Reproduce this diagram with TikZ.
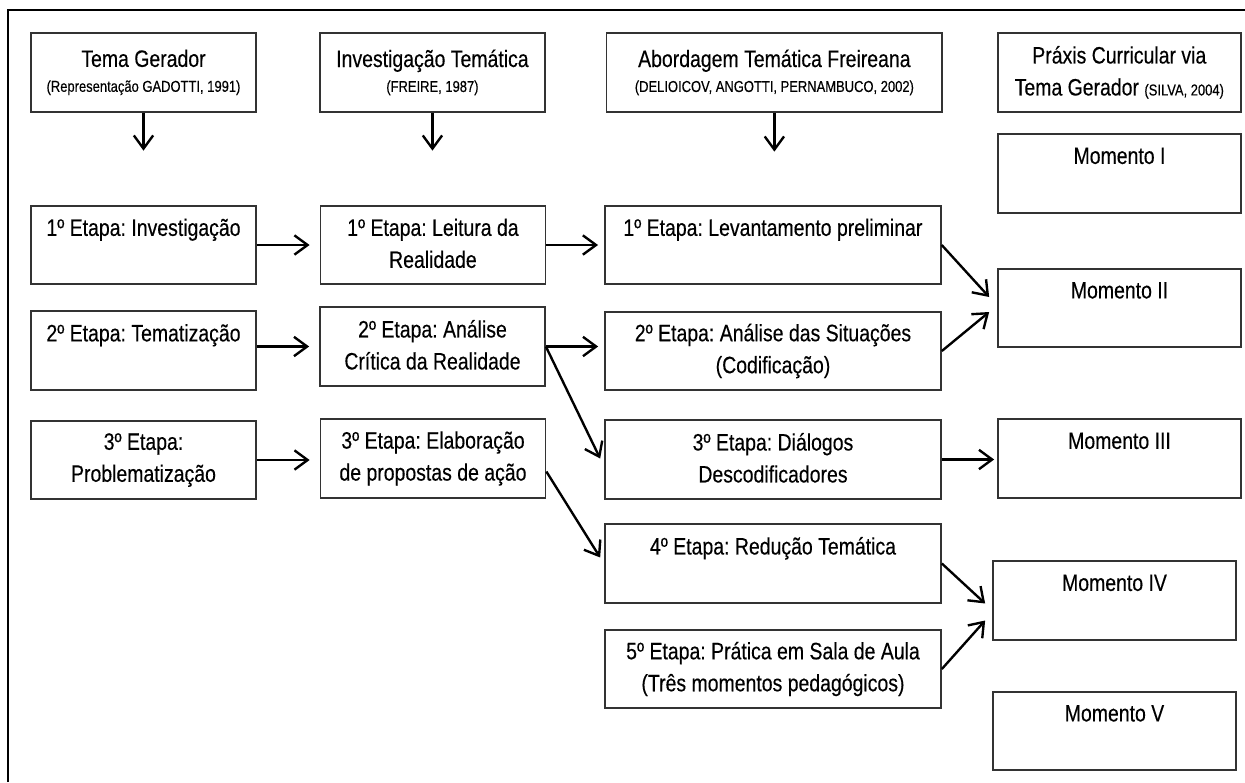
\documentclass[tikz,border=0pt]{standalone}
\usepackage{fontspec}
\setmainfont{Liberation Sans}[FakeStretch=0.82,FakeBold=0.3]
\usepackage{tikz}
\usetikzlibrary{arrows.meta,positioning,calc}
\frenchspacing

\tikzset{
  etapa/.style={draw=black!80, line width=1pt, minimum width=4.5cm, minimum height=1.57cm,
    align=center, inner sep=0pt, font=\fontsize{13.5}{18.2}\selectfont,
    execute at begin node=\rule{0pt}{16pt}, execute at end node=\rule[-2pt]{0pt}{2pt}},
  larga/.style={etapa, minimum width=6.72cm},
  momento/.style={etapa, minimum width=4.86cm},
  seta/.style={-{Straight Barb[length=7.5pt,width=11pt]}, line width=1.35pt},
}
\newcommand{\refp}[1]{{\fontsize{9}{11}\selectfont #1}}

\begin{document}
\begin{tikzpicture}[x=0.02cm, y=-0.02cm, on grid]
\useasboundingbox (0,0) rectangle (1245,782);
\draw[line width=1.3pt] (8,782) -- (8,10) -- (1245,10);

% cabecalhos
\node[etapa] (tg) at (143.5,72.5) {Tema Gerador\\[-4pt]\refp{(Representação GADOTTI, 1991)}};
\node[etapa, right=5.78cm of tg] (it) {Investigação Temática\\[-4pt]\refp{(FREIRE, 1987)}};
\node[larga, right=6.84cm of it] (at) {Abordagem Temática Freireana\\[-4pt]\refp{(DELIOICOV, ANGOTTI, PERNAMBUCO, 2002)}};
\node[momento, right=6.9cm of at] (px) {Práxis Curricular via\\Tema Gerador \refp{(SILVA, 2004)}};
\coordinate[below=0.76cm of tg.south] (tgfim);
\coordinate[below=0.76cm of it.south] (itfim);
\coordinate[below=0.78cm of at.south] (atfim);

% etapas
\node[etapa] (e1) at (143.5,245) {1º Etapa: Investigação\\};
\node[etapa, right=5.79cm of e1] (lr) {1º Etapa: Leitura da\\Realidade};
\node[larga, right=6.8cm of lr] (lv) {1º Etapa: Levantamento preliminar\\};
\node[etapa] (e2) at (143.5,350.5) {2º Etapa: Tematização\\};
\node[etapa] (ac) at (432.5,346.5) {2º Etapa: Análise\\Crítica da Realidade};
\node[larga] (as) at (773,351) {2º Etapa: Análise das Situações\\(Codificação)};
\node[etapa] (e3) at (143.5,460) {3º Etapa:\\Problematização};
\node[etapa] (el) at (433,458.5) {3º Etapa: Elaboração\\de propostas de ação};
\node[larga] (dl) at (773,459.5) {3º Etapa: Diálogos\\Descodificadores};
\node[larga] (rt) at (773,563.5) {4º Etapa: Redução Temática\\};
\node[larga] (pc) at (773,669) {5º Etapa: Prática em Sala de Aula\\(Três momentos pedagógicos)};

% momentos
\node[momento] (m1) at (1119.5,173.5) {Momento I\\};
\node[momento] (m2) at (1119.5,308) {Momento II\\};
\node[momento] (m3) at (1119.5,458.5) {Momento III\\};
\node[momento] (m4) at (1114.5,600.5) {Momento IV\\};
\node[momento] (m5) at (1114.5,731) {Momento V\\};

\draw[seta] (tg.south) -- (tgfim);
\draw[seta] (it.south) -- (itfim);
\draw[seta] (at.south) -- (atfim);
\draw[seta, shorten >=0.2cm] (e1) -- (lr);
\draw[seta, shorten >=0.12cm] (lr) -- (lv);
\draw[seta, shorten >=0.2cm] (ac.west -| e2.east) -- (ac.west);
\draw[seta, shorten >=0.12cm] (ac.east) -- (ac.east -| as.west);
\draw[seta] (ac.east) -- ($(dl.west)+(-4,-1)$);
\draw[seta, shorten >=0.2cm] (e3.east) -- (e3.east -| el.west);
\draw[seta] ($(el.east)+(0,13)$) -- ($(rt.west)+(-4,-6)$);
\draw[seta] (lv.east) -- ($(m2.west)+(-8,-11)$);
\draw[seta] (as.east) -- ($(m2.west)+(-8,4)$);
\draw[seta, shorten >=0.06cm] (dl.east) -- (dl.east -| m3.west);
\draw[seta] (rt.east) -- ($(m4.west)+(-7,3)$);
\draw[seta] (pc.east) -- ($(m4.west)+(-7,20)$);
\end{tikzpicture}
\end{document}
